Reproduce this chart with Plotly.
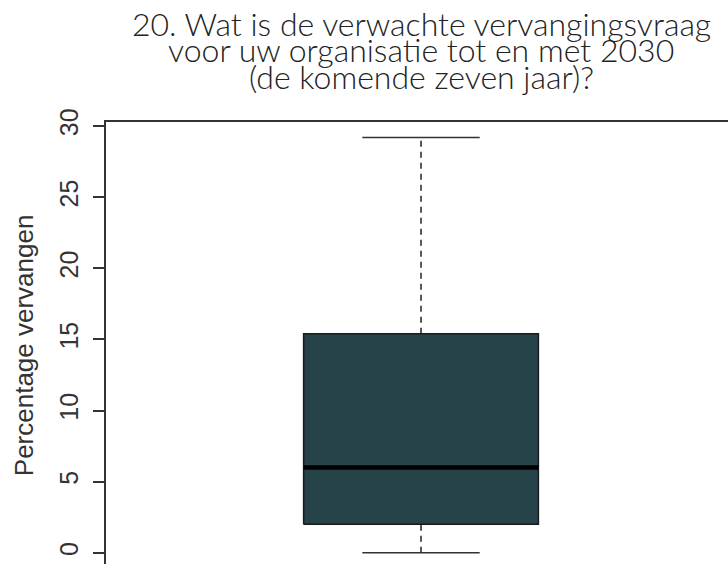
import plotly.graph_objects as go

# Data
stat_names = ["min", "q1", "median", "q3", "max"]
stat_values = [0.0, 2.0, 6.0, 15.4, 29.2]
y_ticks = [0, 5, 10, 15, 20, 25, 30]
title_lines = [
    "20. Wat is de verwachte vervangingsvraag",
    "voor uw organisatie tot en met 2030",
    "(de komende zeven jaar)?",
]
y_label = "Percentage vervangen"

s = dict(zip(stat_names, stat_values))

# box geometry (style): centre 1, box width 0.8, staple width 0.4
xc, hw, sw = 1.0, 0.4, 0.2
box_fill = "#26434a"

fig = go.Figure()
# box
fig.add_trace(go.Scatter(
    x=[xc - hw, xc + hw, xc + hw, xc - hw, xc - hw],
    y=[s["q1"], s["q1"], s["q3"], s["q3"], s["q1"]],
    mode="lines", fill="toself", fillcolor=box_fill,
    line=dict(color="#1a1a1a", width=1.5), hoverinfo="skip"))
# median
fig.add_trace(go.Scatter(x=[xc - hw, xc + hw], y=[s["median"], s["median"]],
                         mode="lines", line=dict(color="#000000", width=4.5), hoverinfo="skip"))
# whiskers
for a, b in [("q3", "max"), ("min", "q1")]:
    fig.add_trace(go.Scatter(x=[xc, xc], y=[s[a], s[b]], mode="lines",
                             line=dict(color="#222222", width=1.5, dash="6px,5px"), hoverinfo="skip"))
# staples
for k in ["min", "max"]:
    fig.add_trace(go.Scatter(x=[xc - sw, xc + sw], y=[s[k], s[k]], mode="lines",
                             line=dict(color="#333333", width=1.5), hoverinfo="skip"))

annotations = []
for i, line in enumerate(title_lines):
    annotations.append(dict(
        text=line, xref="paper", yref="paper", x=(xc + 0.0733) / (2.046 + 0.0733), y=1,
        xanchor="center", yanchor="middle", yshift=99 - 26.5 * i, showarrow=False,
        font=dict(family="Lato", size=32, weight=300, color="#222222")))
annotations.append(dict(
    text=y_label, textangle=-90, xref="paper", yref="paper", x=0, y=0.495,
    xanchor="center", yanchor="middle", xshift=-82, showarrow=False,
    font=dict(family="Liberation Sans", size=26, color="#333333")))

fig.update_layout(
    width=728, height=564,
    margin=dict(l=106, r=0, t=122, b=0, pad=0),
    paper_bgcolor="white", plot_bgcolor="white",
    showlegend=False,
    annotations=annotations,
    xaxis=dict(range=[-0.0733, 2.046], side="top", showline=True, linecolor="#333333",
               linewidth=1.5, showgrid=False, zeroline=False, showticklabels=False, ticks=""),
    yaxis=dict(range=[-0.79, 30.29], tickvals=y_ticks, ticktext=[str(v) for v in y_ticks],
               showline=True, linecolor="#333333", linewidth=1.5, ticks="outside", ticklen=11,
               tickcolor="#333333", tickwidth=1.5, tickangle=-90, ticklabelstandoff=5,
               tickfont=dict(family="Liberation Sans", size=25, color="#333333"),
               showgrid=False, zeroline=False),
)

fig.write_html("out.html", config={"displayModeBar": False},
               post_script="document.body.style.margin='0';document.body.style.overflow='hidden';")
